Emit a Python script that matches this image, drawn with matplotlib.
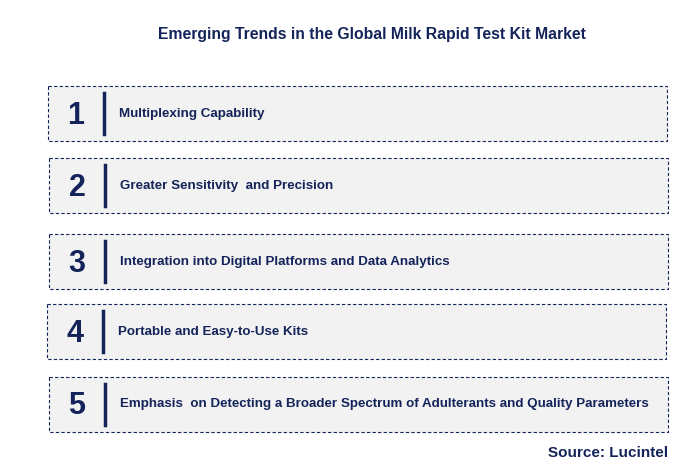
import matplotlib.pyplot as plt
from matplotlib.patches import Rectangle

title = "Emerging Trends in the Global Milk Rapid Test Kit Market"
numbers = ["1", "2", "3", "4", "5"]
trends = [
    "Multiplexing Capability",
    "Greater Sensitivity  and Precision",
    "Integration into Digital Platforms and Data Analytics",
    "Portable and Easy-to-Use Kits",
    "Emphasis  on Detecting a Broader Spectrum of Adulterants and Quality Parameters",
]
box_tops = [86, 158, 234, 304, 377]
box_lefts = [48, 49, 49, 47, 49]

navy = "#14245a"

fig = plt.figure(figsize=(6.76, 4.70), dpi=100)
ax = fig.add_axes([0, 0, 1, 1])
ax.set_xlim(0, 676)
ax.set_ylim(470, 0)
ax.axis("off")

ax.text(372, 35, title, ha="center", va="center", fontsize=11.3,
        fontweight="bold", color=navy, family="Liberation Sans")

h = 55
for num, label, top, left in zip(numbers, trends, box_tops, box_lefts):
    ax.add_patch(Rectangle((left, top), 619, h, facecolor="#f2f2f2",
                           edgecolor=navy, linestyle=(0, (3, 2)), linewidth=0.8))
    mid = top + h / 2
    ax.text(left + 28, mid + 2, num, ha="center", va="center", fontsize=22,
            fontweight="bold", color=navy, family="Liberation Sans")
    ax.plot([left + 56, left + 56], [top + 7, top + h - 7], color=navy, linewidth=2.5)
    ax.text(left + 71, mid, label, ha="left", va="center", fontsize=9.6,
            fontweight="bold", color=navy, family="Liberation Sans")

ax.text(668, 453, "Source: Lucintel", ha="right", va="center", fontsize=11,
        fontweight="bold", color=navy, family="Liberation Sans")

fig.savefig("out.png", dpi=100)
